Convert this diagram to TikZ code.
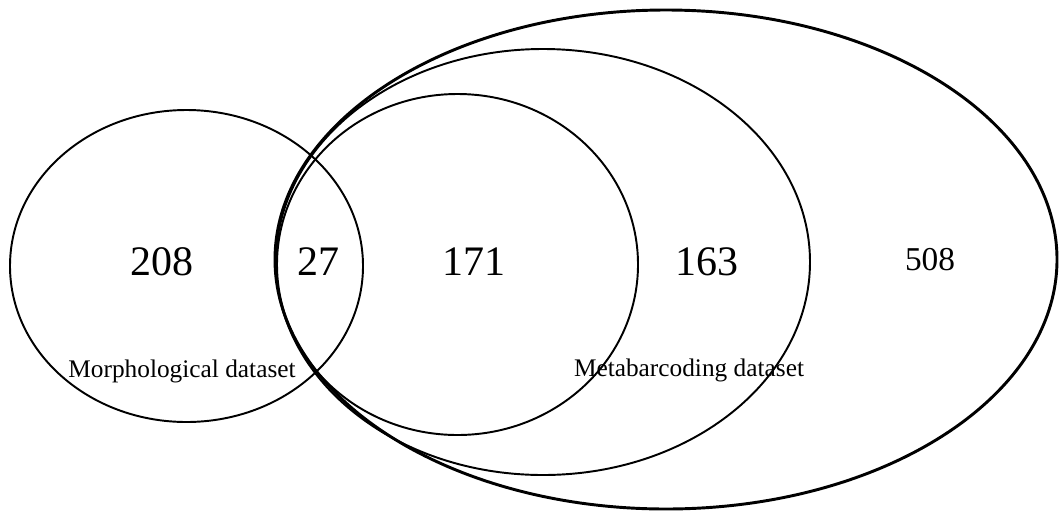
\documentclass[tikz,border=0pt]{standalone}
\usepackage{fontspec}
\setmainfont{Liberation Serif}
\usetikzlibrary{positioning}

\begin{document}
\begin{tikzpicture}[x=0.75pt, y=-0.75pt,
  setline/.style={line width=1.45pt},
  outerline/.style={line width=2.2pt},
  count/.style={font=\fontsize{31.5}{36}\selectfont, inner sep=0pt},
  smallcount/.style={font=\fontsize{25}{30}\selectfont, inner sep=0pt},
  setname/.style={font=\fontsize{19}{22}\selectfont, inner sep=0pt, anchor=base}]
  \useasboundingbox (0,0) rectangle (1059,515);
  % the four sets
  \draw[setline] (186.5,266) ellipse [x radius=176.5, y radius=156];
  \draw[setline] (457.5,264.5) ellipse [x radius=180.5, y radius=170.5];
  \draw[setline] (543,262) ellipse [x radius=267, y radius=213];
  \draw[outerline] (666,259.5) ellipse [x radius=391, y radius=249.5];
  % counts
  \node[count] (morph) at (161.5,262) {208};
  \node[count] (shared) at (318,262) {27};
  \node[count] (inner) at (473.5,262) {171};
  \node[count] (middle) at (706.5,262) {163};
  \node[smallcount] (outer) at (930,260) {508};
  % set names
  \node[setname] (morphname) at (182,377) {Morphological dataset};
  \node[setname] (metaname) at (689,376) {Metabarcoding dataset};
\end{tikzpicture}
\end{document}
